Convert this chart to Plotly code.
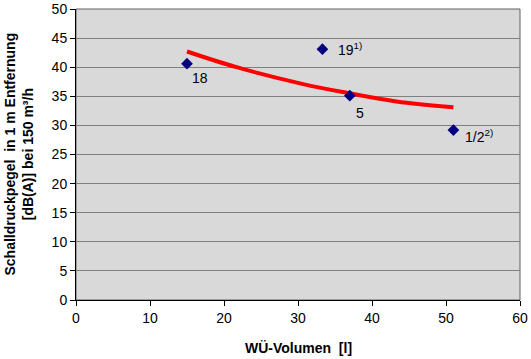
import plotly.graph_objects as go

# Data points (WÜ-Volumen [l], Schalldruckpegel dB(A))
volumes = [15, 33.3, 37, 51]
levels = [40.6, 43.1, 35.1, 29.2]
point_labels = ["18", "19<sup>1)</sup>", "5", "1/2<sup>2)</sup>"]

# Trend curve
trend_x = [15, 21.7, 30.7, 36.6, 43.3, 51]
trend_y = [42.7, 40.0, 37.1, 35.6, 34.1, 33.1]

x_ticks = [0, 10, 20, 30, 40, 50, 60]
y_ticks = [0, 5, 10, 15, 20, 25, 30, 35, 40, 45, 50]

x_title = "<b>WÜ-Volumen  [l]</b>"
y_title = "<b>Schalldruckpegel  in 1 m Entfernung<br>[dB(A)] bei 150 m³/h</b>"

font_family = "Liberation Sans, Arial, sans-serif"

fig = go.Figure()
fig.add_trace(go.Scatter(
    x=trend_x, y=trend_y, mode="lines",
    line=dict(color="#ff0000", width=4, shape="spline"),
    hoverinfo="skip", showlegend=False))
fig.add_trace(go.Scatter(
    x=volumes, y=levels, mode="markers",
    marker=dict(symbol="diamond", size=9, color="#000080"),
    showlegend=False))

# label offsets (pixel) for annotations
offsets = [(13, -14, "center"), (14, 0, "left"), (10, -17, "center"), (10, -6, "left")]
for xv, yv, lab, (dx, dy, anc) in zip(volumes, levels, point_labels, offsets):
    fig.add_annotation(x=xv, y=yv, xref="x", yref="y", text=lab, showarrow=False,
                       xanchor=anc, yanchor="middle", xshift=dx, yshift=dy,
                       font=dict(family=font_family, size=14, color="black"))

# y-axis title as rotated annotation
fig.add_annotation(x=0, y=0.5, xref="paper", yref="paper", text=y_title,
                   textangle=-90, showarrow=False, xanchor="center", yanchor="middle",
                   xshift=-58, font=dict(family=font_family, size=14, color="black"))

# x-axis title as annotation
fig.add_annotation(x=0.5, y=0, xref="paper", yref="paper", text=x_title,
                   showarrow=False, xanchor="center", yanchor="middle",
                   yshift=-48, font=dict(family=font_family, size=14, color="black"))

fig.update_layout(
    width=531, height=359,
    margin=dict(l=76, r=11, t=9, b=59),
    paper_bgcolor="white", plot_bgcolor="#d9d9d9",
    font=dict(family=font_family, size=14, color="black"),
    xaxis=dict(range=[0, 60], tickvals=x_ticks, showgrid=False, zeroline=False,
               automargin=False,
               showline=True, linecolor="black", linewidth=1,
               ticks="outside", ticklen=5, tickcolor="black",
               tickfont=dict(color="black")),
    yaxis=dict(range=[0, 50], tickvals=y_ticks, showgrid=True, gridcolor="#808080",
               gridwidth=1, zeroline=False, automargin=False,
               showline=True, linecolor="black", linewidth=1,
               ticks="outside", ticklen=5, tickcolor="black",
               tickfont=dict(color="black")),
    shapes=[dict(type="rect", xref="paper", yref="paper", x0=0, y0=0, x1=1, y1=1,
                 line=dict(color="#606060", width=1), layer="below")],
)

fig.write_html("out.html", config={"displayModeBar": False},
               post_script="document.body.style.margin='0';document.body.style.padding='0';")
